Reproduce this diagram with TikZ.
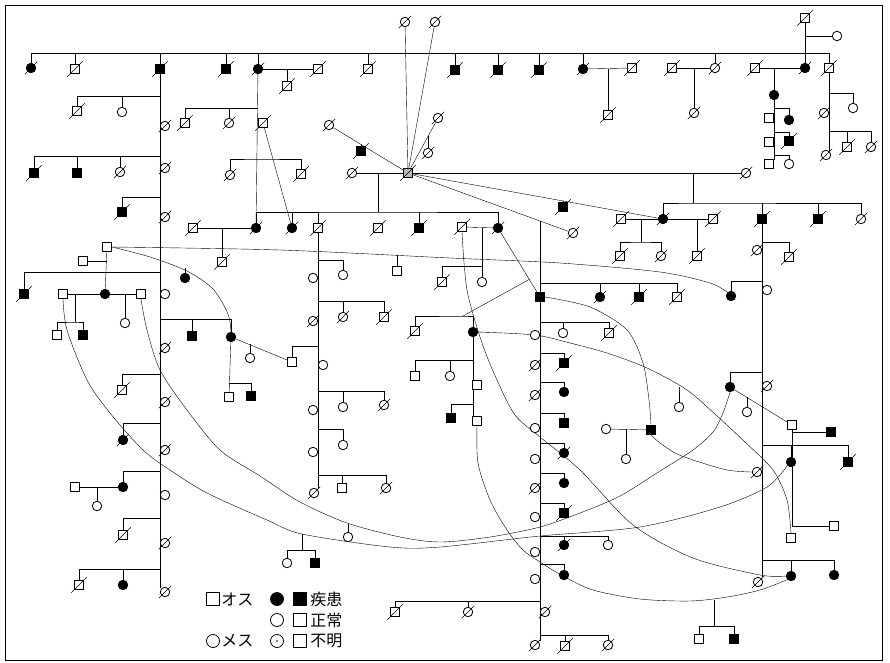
\documentclass[tikz,border=0pt]{standalone}
\usepackage{fontspec}
\newfontfamily\jp{Noto Sans CJK JP}
\usetikzlibrary{calc}
\pgfdeclarelayer{bg}
\pgfsetlayers{bg,main}
\tikzset{
  pbase/.style={draw, line width=0.8pt, inner sep=0pt, fill=white},
  sq/.style={pbase, rectangle, minimum size=9.5pt},
  ci/.style={pbase, circle, minimum size=9.5pt},
  fsq/.style={sq, fill=black},
  fci/.style={ci, fill=black},
  dd/.style={append after command={($(\tikzlastnode.south west)+(-2.5,2.5)$) edge[line width=0.6pt] ($(\tikzlastnode.north east)+(2.5,-2.5)$)}},
  lsq/.style={pbase, rectangle, minimum size=13pt},
  lci/.style={pbase, circle, minimum size=13pt},
  ltxt/.style={anchor=west, inner sep=0pt, font=\jp\fontsize{16}{16}\selectfont},
}
\begin{document}
\begin{tikzpicture}[x=1pt,y=-1pt,line width=0.85pt]
\useasboundingbox (0,0) rectangle (890,662);
\draw[line width=1pt] (5,5) rectangle (882,660);
% ---------- top generation
\node[ci,dd] (T1) at (405,22) {};
\node[ci,dd] (T2) at (435,22) {};
\node[sq,dd,fill=gray!55] (C) at (408,173) {};
\coordinate (top0) at (31,53); \coordinate (top1) at (829,53);
\node[fci,dd] (a1) at (31,68) {};
\node[sq,dd] (a2) at (75,69) {};
\node[fsq,dd] (a3) at (160,69) {};
\node[fsq,dd] (a4) at (226,69) {};
\node[fci,dd] (a5) at (258,69) {};
\node[sq,dd] (a6) at (318,69) {};
\node[sq,dd] (a7) at (368,69) {};
\node[fsq,dd] (a8) at (455,70) {};
\node[fsq,dd] (a9) at (498,70) {};
\node[fsq,dd] (a10) at (539,70) {};
\node[fci,dd] (a11) at (583,69) {};
\node[sq,dd] (a12) at (632,68) {};
\node[sq,dd] (a13) at (672,68) {};
\node[ci,dd] (a14) at (715,68) {};
\node[sq,dd] (a15) at (755,68) {};
\node[fci,dd] (a16) at (805,68) {};
\node[sq,dd] (a17) at (829,68) {};
\node[sq,dd] (p1) at (805,18) {};
\node[ci] (p2) at (837,36) {};
\node[sq,dd] (g1) at (287,86) {};
\node[sq,dd] (g2) at (608,115) {};
\node[ci,dd] (g3) at (694,113) {};
\node[fci] (g4) at (774,95) {};
\node[sq] (h1) at (769,118) {};
\node[sq] (h2) at (769,142) {};
\node[sq] (h3) at (769,164) {};
\node[fci] (k1) at (789,120) {};
\node[fsq,dd] (k2) at (789,141) {};
\node[ci] (k3) at (789,164) {};
\coordinate (hA) at (774,108); \coordinate (hB) at (774,132); \coordinate (hC) at (774,155);
\coordinate (hend) at (774,160);
\coordinate (rend) at (829,151);
\coordinate (rA) at (829,93); \coordinate (rB) at (829,131);
\node[ci,dd] (r1) at (824,113) {};
\node[ci,dd] (r2) at (826,155) {};
\node[ci] (r3) at (853,108) {};
\node[sq,dd] (r4) at (847,147) {};
\node[ci,dd] (r5) at (871,147) {};
% ---------- left column x=160
\coordinate (a3end) at (160,588);
\coordinate (bA) at (160,96); \coordinate (bB) at (160,156); \coordinate (bC) at (160,197);
\coordinate (bD) at (160,272); \coordinate (bE) at (160,319); \coordinate (bF) at (160,374);
\coordinate (bG) at (160,423); \coordinate (bH) at (160,471); \coordinate (bI) at (160,518);
\coordinate (bJ) at (160,569);
\node[sq,dd] (b1) at (77,111) {};
\node[ci] (b2) at (122,112) {};
\node[ci,dd] (b3) at (165,126) {};
\node[fsq,dd] (b4) at (34,173) {};
\node[fsq] (b5) at (77,173) {};
\node[ci,dd] (b6) at (120,172) {};
\node[ci,dd] (b7) at (165,168) {};
\node[fsq,dd] (b8) at (122,212) {};
\node[ci,dd] (b9) at (165,217) {};
\node[fsq,dd] (b10) at (24,294) {};
\node[ci] (b11) at (165,294) {};
\node[fsq] (b12) at (192,336) {};
\node[ci,dd] (b13) at (165,348) {};
\node[sq,dd] (b14) at (122,390) {};
\node[ci,dd] (b15) at (165,402) {};
\node[fci,dd] (b16) at (123,440) {};
\node[ci,dd] (b17) at (165,450) {};
\node[fci] (b18) at (123,487) {};
\node[sq] (b19) at (75,487) {};
\node[ci] (b20) at (97,506) {};
\node[ci] (b21) at (165,495) {};
\node[sq,dd] (b22) at (123,535) {};
\node[ci,dd] (b23) at (165,543) {};
\node[sq,dd] (b24) at (79,585) {};
\node[fci] (b25) at (123,585) {};
\node[ci,dd] (b26) at (165,592) {};
% ---------- s cluster
\node[sq] (s1) at (107,247) {};
\node[sq] (s2) at (83,261) {};
\node[fci] (s3) at (105,294) {};
\node[sq] (s4) at (63,294) {};
\node[sq] (s5) at (141,294) {};
\node[sq] (s6) at (57,335) {};
\node[fsq] (s7) at (83,335) {};
\node[ci] (s8) at (125,323) {};
\node[fci] (s9) at (185,278) {};
\coordinate (sk) at (75,322); \coordinate (s9t) at (185,268);
% ---------- m cluster
\node[fci] (m1) at (231,337) {};
\node[sq] (m2) at (292,362) {};
\node[ci] (m3) at (250,358) {};
\node[sq] (m4) at (229,397) {};
\node[fsq] (m5) at (251,396) {};
\coordinate (m3t) at (250,344); \coordinate (mk) at (229,383); \coordinate (mq) at (318,346);
% ---------- C cluster
\node[ci,dd] (e1) at (352,173) {};
\node[ci,dd] (e2) at (329,125) {};
\node[fsq,dd] (e3) at (361,151) {};
\node[ci,dd] (e4) at (438,118) {};
\node[ci,dd] (e5) at (428,153) {};
\node[ci,dd] (e6) at (746,173) {};
\node[fsq,dd] (e7) at (563,207) {};
\node[ci,dd] (e8) at (573,233) {};
\coordinate (e3t) at (361,144); \coordinate (e5t) at (428,136); \coordinate (e7t) at (563,201);
\coordinate (fk) at (693,203);
\node[fci,dd] (f1) at (663,219) {};
\node[fsq,dd] (f2) at (762,219) {};
\node[fsq,dd] (f3) at (818,219) {};
\node[ci,dd] (f4) at (861,219) {};
\node[sq,dd] (f5) at (621,219) {};
\node[sq,dd] (f6) at (620,256) {};
\node[ci,dd] (f7) at (661,256) {};
\node[sq,dd] (f8) at (713,219) {};
\node[sq,dd] (f9) at (697,256) {};
\coordinate (f1k) at (641,242);
\coordinate (gk) at (540,221); \coordinate (gb) at (540,283);
\node[fsq] (g5) at (540,297) {};
\node[fci,dd] (g6) at (600,297) {};
\node[fsq,dd] (g7) at (639,297) {};
\node[sq,dd] (g8) at (677,297) {};
% ---------- right column x=762
\coordinate (f2end) at (762,577);
\coordinate (qa) at (762,242); \coordinate (qb) at (762,281); \coordinate (qc) at (762,372);
\coordinate (qd) at (762,445); \coordinate (qe) at (762,560);
\node[ci,dd] (q1) at (757,250) {};
\node[sq,dd] (q2) at (789,257) {};
\node[ci] (q3) at (767,290) {};
\node[fci] (n1) at (731,296) {};
\node[fci] (q4) at (730,387) {};
\node[ci,dd] (q5) at (767,386) {};
\node[sq] (q6) at (792,425) {};
\node[ci] (q7) at (747,412) {};
\node[fsq] (q8) at (831,432) {};
\node[sq] (q9) at (834,526) {};
\node[fci] (q10) at (791,462) {};
\node[fsq,dd] (q11) at (848,462) {};
\node[sq] (q12) at (791,538) {};
\node[fci] (q13) at (791,576) {};
\node[fci] (q14) at (834,575) {};
\node[ci,dd] (q15) at (758,582) {};
\node[ci,dd] (q16) at (757,472) {};
\node[sq] (q17) at (699,639) {};
\node[fsq] (q18) at (734,639) {};
\coordinate (q7t) at (747,397); \coordinate (q6e) at (792,526);
\coordinate (qk) at (714,600); \coordinate (qkb) at (714,626);
% ---------- c row
\coordinate (ck) at (378,173); \coordinate (cb) at (378,212);
\node[fci,dd] (c1) at (256,228) {};
\node[fci,dd] (c2) at (292,228) {};
\node[sq,dd] (c3) at (318,228) {};
\node[sq,dd] (c4) at (378,228) {};
\node[fsq,dd] (c5) at (419,228) {};
\node[fci,dd] (c6) at (498,228) {};
\node[sq,dd] (c7) at (462,227) {};
\node[sq,dd] (c8) at (193,228) {};
\node[sq,dd] (c9) at (222,262) {};
\coordinate (d0) at (258,108); \coordinate (dbar) at (258,159);
\node[sq,dd] (d1) at (185,123) {};
\node[ci,dd] (d2) at (229,123) {};
\node[sq,dd] (d3) at (263,123) {};
\node[ci,dd] (d4) at (230,175) {};
\node[sq,dd] (d5) at (301,174) {};
% ---------- i cluster
\node[ci] (i1) at (482,282) {};
\node[sq,dd] (i2) at (442,282) {};
\coordinate (ib) at (482,266);
\coordinate (sl1) at (530,279); \coordinate (sl2) at (463,316);
\node[sq,dd] (i3) at (415,331) {};
\node[fci] (i4) at (473,332) {};
\node[sq] (i5) at (477,385) {};
\node[sq] (i6) at (477,421) {};
\coordinate (iA) at (473,360); \coordinate (iB) at (473,404);
\node[sq] (i7) at (415,376) {};
\node[ci] (i8) at (450,376) {};
\node[fsq] (i9) at (451,418) {};
\node[ci] (i10) at (606,429) {};
\node[fsq] (i11) at (651,430) {};
\node[ci] (i12) at (626,459) {};
\node[ci] (i13) at (679,407) {};
\coordinate (i13t) at (679,387);
\node[ci] (i14) at (348,537) {};
\coordinate (i14t) at (348,524);
\node[ci] (i15) at (287,563) {};
\node[fsq] (i16) at (315,563) {};
\coordinate (ik) at (302,534); \coordinate (ikb) at (302,550);
% ---------- x=540 column
\coordinate (jend) at (540,641);
\coordinate (jA) at (540,322); \coordinate (jB) at (540,353); \coordinate (jC) at (540,382);
\coordinate (jD) at (540,413); \coordinate (jE) at (540,443); \coordinate (jF) at (540,473);
\coordinate (jG) at (540,503); \coordinate (jH) at (540,536); \coordinate (jI) at (540,564);
\coordinate (jJ) at (540,601); \coordinate (jK) at (540,635);
\node[ci] (j1) at (535,335) {};
\node[ci] (j2) at (563,333) {};
\node[sq,dd] (j3) at (609,333) {};
\node[fsq,dd] (j4) at (564,363) {};
\node[ci,dd] (j5) at (535,365) {};
\node[fci] (j6) at (564,392) {};
\node[ci,dd] (j7) at (535,395) {};
\node[fsq] (j8) at (564,423) {};
\node[ci] (j9) at (535,428) {};
\node[fci,dd] (j10) at (564,453) {};
\node[ci] (j11) at (535,459) {};
\node[fci] (j12) at (564,483) {};
\node[ci,dd] (j13) at (535,488) {};
\node[fsq,dd] (j14) at (564,513) {};
\node[ci] (j15) at (535,517) {};
\node[fci,dd] (j16) at (564,545) {};
\node[ci] (j17) at (608,545) {};
\node[ci] (j18) at (535,552) {};
\node[fci] (j19) at (564,575) {};
\node[ci] (j20) at (535,579) {};
\node[sq,dd] (j21) at (395,612) {};
\node[ci,dd] (j22) at (468,612) {};
\node[ci,dd] (j23) at (545,612) {};
\node[sq,dd] (j24) at (565,646) {};
\node[ci,dd] (j25) at (608,645) {};
\node[ci,dd] (j26) at (535,645) {};
% ---------- x=318 column
\coordinate (oend) at (318,489);
\coordinate (oA) at (318,260); \coordinate (oB) at (318,301); \coordinate (oC) at (318,391);
\coordinate (oD) at (318,429); \coordinate (oE) at (318,475);
\node[ci] (o1) at (343,275) {};
\node[ci] (o2) at (313,278) {};
\node[ci,dd] (o3) at (343,317) {};
\node[sq,dd] (o4) at (384,317) {};
\node[ci,dd] (o5) at (313,321) {};
\node[ci] (o6) at (323,365) {};
\node[ci] (o7) at (343,407) {};
\node[ci,dd] (o8) at (384,405) {};
\node[ci] (o9) at (313,410) {};
\node[ci] (o10) at (343,445) {};
\node[ci] (o11) at (313,452) {};
\node[sq] (o12) at (342,488) {};
\node[ci,dd] (o13) at (386,488) {};
\node[ci,dd] (o14) at (314,493) {};
\node[sq] (o15) at (397,271) {};
\coordinate (o15t) at (397,255);
% ---------- legend
\node[lsq] (L1) at (213,599) {};
\node[ltxt] (L1t) at (221,599) {オス};
\node[lci,fill=black] (L2) at (277,599) {};
\node[lsq,fill=black] (L3) at (300,599) {};
\node[ltxt] (L3t) at (310,599) {疾患};
\node[lci] (L4) at (277,620) {};
\node[lsq] (L5) at (300,620) {};
\node[ltxt] (L5t) at (310,620) {正常};
\node[lci] (L6) at (213,641) {};
\node[ltxt] (L6t) at (221,641) {メス};
\node[lci] (L7) at (277,641) {};
\node[lsq] (L8) at (300,641) {};
\node[ltxt] (L8t) at (310,641) {不明};
\fill (L7.center) circle (0.8);

\begin{pgfonlayer}{bg}
% top
\draw (top0) -- (top1);
\foreach \n in {a1,a2,a3,a4,a5,a7,a8,a9,a10,a11,a14,a17} \draw (\n.north) -- (\n.north |- top0);
\draw (T1) -- (C); \draw (T2) -- (C);
\draw (a5) -- (a6); \draw (a11) -- (a12); \draw (a13) -- (a14); \draw (a15) -- (a16);
\draw (g1.north) -- (g1.north |- a5);
\draw (g2.north) -- (g2.north |- a11);
\draw (g3.north) -- (g3.north |- a13);
\draw (g4.north) -- (g4.north |- a15);
\draw (p1) -- (a16); \draw (p2) -- (p2 -| p1);
\draw (g4) -- (hend);
\draw (hA) -| (k1.north); \draw (hB) -| (k2.north); \draw (hC) -| (k3.north);
\draw (a17) -- (rend);
\draw (rA) -| (r3.north); \draw (rB) -| (r5.north); \draw (r4.north) -- (r4.north |- rB);
% left column
\draw (a3) -- (a3end);
\draw (bA) -| (b1.north); \draw (b2.north) -- (b2.north |- bA);
\draw (bB) -| (b4.north); \draw (b5.north) -- (b5.north |- bB); \draw (b6.north) -- (b6.north |- bB);
\draw (bC) -| (b8.north);
\draw (bD) -| (b10.north);
\draw (bE) -| (m1.north); \draw (b12.north) -- (b12.north |- bE);
\draw (bF) -| (b14.north);
\draw (bG) -| (b16.north);
\draw (bH) -| (b18.north); \draw (b19) -- (b18); \draw (b20.north) -- (b20.north |- b18);
\draw (bI) -| (b22.north);
\draw (bJ) -| (b24.north); \draw (b25.north) -- (b25.north |- bJ);
% s cluster
\draw (s1) -- (s3); \draw (s2) -- (s2 -| s1); \draw (s4) -- (s5);
\draw (sk) -- (sk |- s4); \draw (s6.north) |- (sk) -| (s7.north);
\draw (s8.north) -- (s8.north |- s5);
\draw plot[smooth] coordinates {(s1.east) (150,257) (187,271) (213,289) (228,314) (m1.north)};
\draw (s9.north) -- (s9t);
\draw plot[smooth] coordinates {(s1.east) (280,250) (450,258) (560,263) (660,272) (710,283) (n1.north west)};
\draw (o15.north) -- (o15t);
% m cluster
\draw (m1) -- (m2); \draw (m3.north) -- (m3t);
\draw (m1) -- (m4); \draw (mk) -| (m5.north);
\draw (m2.north) |- (mq);
% C cluster
\draw (e1) -- (C); \draw (e2) -- (C); \draw (e3.north) -- (e3t);
\draw (C) -- (e4); \draw (e5.north) -- (e5t);
\draw (C) -- (e6); \draw (fk) -- (fk |- C);
\draw (f1.north) |- (fk) -| (f4.north);
\draw (f2.north) -- (f2.north |- fk); \draw (f3.north) -- (f3.north |- fk);
\draw (C) -- (f1); \draw (e7.north) -- (e7t);
\draw (C) -- (e8);
\draw (gk) -- (g5); \draw (gb) -| (g8.north);
\draw (g6.north) -- (g6.north |- gb); \draw (g7.north) -- (g7.north |- gb);
\draw (f5) -- (f1); \draw (f1k) -- (f1k |- f1); \draw (f6.north) |- (f1k) -| (f7.north);
\draw (f1) -- (f8); \draw (f9.north) -- (f9.north |- f8);
% right column
\draw (f2) -- (f2end);
\draw (qa) -| (q2.north);
\draw (qb) -| (n1.north);
\draw (qc) -| (q4.north);
\draw (q4) -- (q6); \draw (q7.north) -- (q7t);
\draw (q6.south) -- (q6e) -- (q9); \draw (q8) -- (q8 -| q6e);
\draw (qd) -| (q11.north); \draw (q10.north) -- (q10.north |- qd);
\draw (qe) -| (q14.north); \draw (q13.north) -- (q13.north |- qe);
\draw (qk) -- (qkb); \draw (q17.north) |- (qkb) -| (q18.north);
% c row
\draw (ck) -- (cb); \draw (c1.north) |- (cb) -| (c6.north);
\foreach \n in {c2,c3,c5} \draw (\n.north) -- (\n.north |- cb);
\draw (a5) -- (c1);
\draw (c8) -- (c1); \draw (c9.north) -- (c9.north |- c8);
\draw (d0) -| (d1.north); \draw (d2.north) -- (d2.north |- d0);
\draw (d4.north) |- (dbar) -| (d5.north);
\draw (d3) -- (c2);
\draw (c7) -- (c6); \draw (c6) -- (g5);
% i cluster
\draw (i1.north) -- (i1.north |- c6); \draw (ib) -| (i2.north);
\draw (sl1) -- (sl2); \draw (i3.north) |- (sl2) -| (i4.north);
\draw (i4) -- (i4 |- i6);
\draw (iA) -| (i7.north); \draw (i8.north) -- (i8.north |- iA);
\draw (iB) -| (i9.north);
\draw (i10) -- (i11); \draw (i12.north) -- (i12.north |- i10);
\draw (i13.north) -- (i13t);
\draw (i14.north) -- (i14t);
\draw (ik) -- (ikb); \draw (i15.north) |- (ikb) -| (i16.north);
% x=540 column
\draw (g5) -- (jend);
\draw (jA) -| (j3.north); \draw (j2.north) -- (j2.north |- jA);
\draw (jB) -| (j4.north); \draw (jC) -| (j6.north); \draw (jD) -| (j8.north);
\draw (jE) -| (j10.north); \draw (jF) -| (j12.north); \draw (jG) -| (j14.north);
\draw (jH) -| (j17.north); \draw (j16.north) -- (j16.north |- jH);
\draw (jI) -| (j19.north);
\draw (jJ) -| (j21.north); \draw (j22.north) -- (j22.north |- jJ);
\draw (jK) -| (j25.north); \draw (j24.north) -- (j24.north |- jK);
% x=318 column
\draw (c3) -- (oend);
\draw (oA) -| (o1.north);
\draw (oB) -| (o4.north); \draw (o3.north) -- (o3.north |- oB);
\draw (oC) -| (o8.north); \draw (o7.north) -- (o7.north |- oC);
\draw (oD) -| (o10.north);
\draw (oE) -| (o13.north); \draw (o12.north) -- (o12.north |- oE);
% long curves
\draw plot[smooth] coordinates {(s5.south) (147,330) (160,370) (187,410) (220,450) (260,476) (300,502) (347,523) (400,537) (440,542) (490,537) (540,527) (580,513) (620,496) (660,471) (693,450) (713,432) (723,413) (q4.south)};
\draw plot[smooth] coordinates {(s4.south) (67,330) (87,380) (110,413) (143,450) (170,470) (207,493) (267,520) (302,534) (390,547) (440,547) (540,536) (640,527) (720,507) (767,487) (q10.south west)};
\draw plot[smooth] coordinates {(c7.south) (467,290) (482,343) (497,380) (515,415) (540,437) (580,470) (633,525) (693,558) (760,575) (q13.west)};
\draw plot[smooth] coordinates {(i6.south) (478,463) (490,500) (507,530) (523,550) (540,562) (563,576) (593,590) (640,599) (690,601) (727,597) (760,590) (q13.south west)};
\draw plot[smooth] coordinates {(i4.east) (535,335) (570,343) (607,353) (647,368) (687,390) (717,416) (745,442) (773,470) (787,500) (q12.north)};
\draw plot[smooth] coordinates {(g5.east) (590,307) (627,330) (643,363) (649,400) (i11.north)};
\draw plot[smooth] coordinates {(i11.south) (660,443) (675,453) (693,460) (727,470) (q16.west)};
\end{pgfonlayer}
\end{tikzpicture}
\end{document}
